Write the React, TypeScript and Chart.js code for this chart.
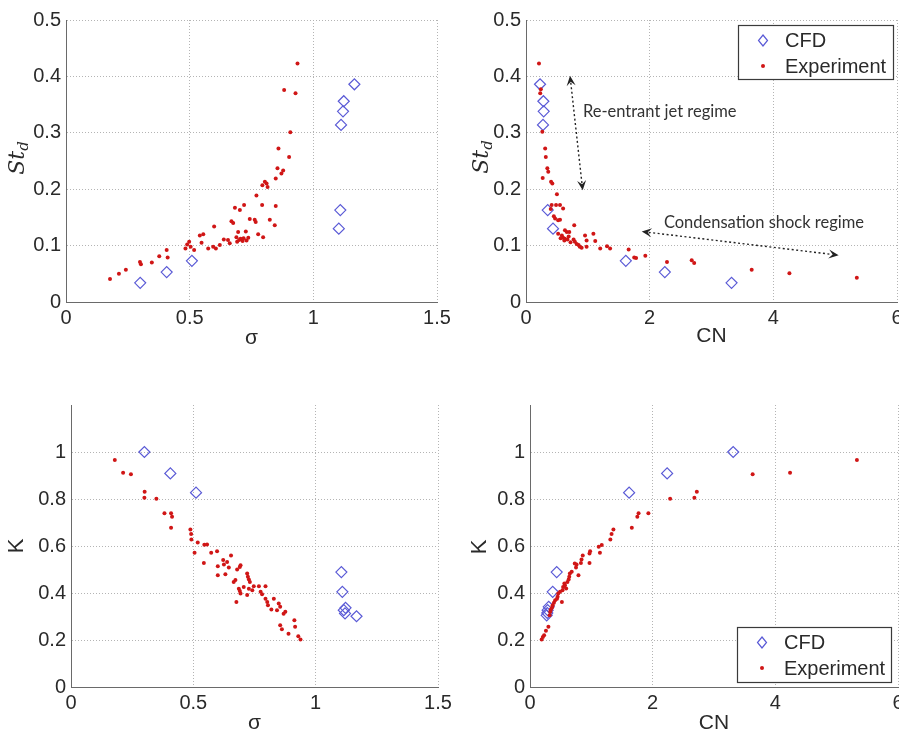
import React, { useEffect, useRef } from 'react';
import { Chart, registerables } from 'chart.js';

Chart.register(...registerables);

type Pt = [number, number];

// ---------- data: panel (a) St_d vs sigma ----------
const cfdSigmaSt: Pt[] = [
  [0.300, 0.034], [0.407, 0.053], [0.509, 0.073], [1.103, 0.130], [1.109, 0.163],
  [1.112, 0.314], [1.120, 0.338], [1.123, 0.356], [1.166, 0.386],
];
const expSigmaSt: Pt[] = [
  [0.178, 0.041], [0.214, 0.050], [0.242, 0.057], [0.299, 0.071], [0.303, 0.067], [0.347, 0.070],
  [0.377, 0.081], [0.407, 0.092], [0.411, 0.079], [0.483, 0.095], [0.490, 0.102], [0.498, 0.107],
  [0.504, 0.098], [0.518, 0.092], [0.541, 0.118], [0.555, 0.120], [0.548, 0.105], [0.575, 0.095],
  [0.599, 0.134], [0.595, 0.098], [0.606, 0.095], [0.622, 0.101], [0.638, 0.111], [0.662, 0.104],
  [0.669, 0.143], [0.676, 0.140], [0.683, 0.167], [0.689, 0.115], [0.692, 0.107], [0.696, 0.124],
  [0.703, 0.163], [0.706, 0.112], [0.714, 0.108], [0.720, 0.172], [0.727, 0.125], [0.730, 0.109],
  [0.737, 0.114], [0.743, 0.147], [0.763, 0.146], [0.767, 0.142], [0.770, 0.189], [0.777, 0.120],
  [0.793, 0.172], [0.797, 0.115], [0.794, 0.207], [0.804, 0.213], [0.811, 0.210], [0.815, 0.204],
  [0.824, 0.146], [0.844, 0.136], [0.848, 0.170], [0.848, 0.219], [0.855, 0.237], [0.859, 0.272],
  [0.871, 0.228], [0.878, 0.233], [0.882, 0.376], [0.902, 0.257], [0.907, 0.301], [0.928, 0.370],
  [0.936, 0.423], [0.655, 0.110], [0.700, 0.110], [0.718, 0.113],
];

// ---------- data: panel (b) St_d vs CN ----------
const cfdCnSt: Pt[] = [
  [0.227, 0.386], [0.281, 0.356], [0.286, 0.338], [0.275, 0.314], [0.351, 0.163],
  [0.437, 0.130], [1.614, 0.073], [2.245, 0.053], [3.324, 0.034],
];
const expCnSt: Pt[] = [
  [0.21, 0.423], [0.24, 0.377], [0.23, 0.370], [0.264, 0.302], [0.31, 0.272], [0.32, 0.257],
  [0.345, 0.237], [0.36, 0.231], [0.27, 0.220], [0.405, 0.213], [0.426, 0.210], [0.50, 0.191],
  [0.415, 0.172], [0.486, 0.172], [0.55, 0.172], [0.60, 0.166], [0.47, 0.148], [0.52, 0.145],
  [0.55, 0.146], [0.78, 0.136], [0.63, 0.127], [0.66, 0.124], [0.52, 0.121], [0.58, 0.118],
  [0.60, 0.114], [0.63, 0.112], [0.67, 0.111], [0.70, 0.124], [0.77, 0.111], [0.79, 0.107],
  [0.85, 0.101], [0.87, 0.098], [0.955, 0.118], [0.98, 0.109], [0.98, 0.098], [1.09, 0.121],
  [1.12, 0.108], [1.20, 0.095], [1.31, 0.099], [1.36, 0.095], [1.66, 0.093], [1.75, 0.079],
  [1.78, 0.078], [1.93, 0.082], [2.28, 0.071], [2.68, 0.074], [2.72, 0.069], [3.65, 0.057],
  [4.26, 0.051], [5.35, 0.043], [0.56, 0.113], [0.62, 0.109], [0.72, 0.106], [0.82, 0.103],
  [0.90, 0.096], [0.69, 0.116], [0.45, 0.152], [0.40, 0.165],
];

// ---------- data: panel (c) K vs sigma ----------
const cfdSigmaK: Pt[] = [
  [0.300, 1.0], [0.406, 0.909], [0.511, 0.827], [1.105, 0.489], [1.109, 0.405],
  [1.122, 0.337], [1.115, 0.327], [1.120, 0.313], [1.167, 0.301],
];
const expSigmaK: Pt[] = [
  [0.179, 0.966], [0.213, 0.912], [0.245, 0.905], [0.301, 0.831], [0.300, 0.805], [0.349, 0.801],
  [0.382, 0.739], [0.409, 0.739], [0.413, 0.724], [0.409, 0.678], [0.488, 0.670], [0.491, 0.651],
  [0.492, 0.628], [0.505, 0.571], [0.518, 0.615], [0.545, 0.605], [0.556, 0.606], [0.543, 0.528],
  [0.573, 0.571], [0.597, 0.578], [0.600, 0.514], [0.600, 0.476], [0.622, 0.540], [0.625, 0.521],
  [0.638, 0.532], [0.631, 0.480], [0.654, 0.560], [0.645, 0.509], [0.665, 0.447], [0.672, 0.455],
  [0.676, 0.362], [0.679, 0.500], [0.690, 0.511], [0.693, 0.518], [0.686, 0.418], [0.690, 0.409],
  [0.693, 0.398], [0.706, 0.426], [0.720, 0.483], [0.723, 0.469], [0.727, 0.457], [0.731, 0.447],
  [0.727, 0.418], [0.720, 0.391], [0.741, 0.412], [0.747, 0.429], [0.768, 0.429], [0.775, 0.405],
  [0.781, 0.395], [0.795, 0.429], [0.795, 0.376], [0.802, 0.362], [0.805, 0.348], [0.819, 0.330],
  [0.829, 0.376], [0.849, 0.355], [0.855, 0.341], [0.842, 0.327], [0.876, 0.320], [0.869, 0.312],
  [0.855, 0.263], [0.862, 0.246], [0.889, 0.227], [0.913, 0.284], [0.916, 0.256], [0.929, 0.216],
  [0.938, 0.202],
];

// ---------- data: panel (d) K vs CN ----------
const cfdCnK: Pt[] = [
  [0.272, 0.305], [0.288, 0.327], [0.305, 0.341], [0.282, 0.315], [0.370, 0.405],
  [0.435, 0.489], [1.616, 0.827], [2.236, 0.909], [3.313, 1.0],
];
const expCnK: Pt[] = [
  [5.33, 0.966], [4.24, 0.912], [3.63, 0.905], [2.72, 0.831], [2.68, 0.805], [2.285, 0.801],
  [1.93, 0.739], [1.77, 0.739], [1.75, 0.724], [1.66, 0.678], [1.36, 0.670], [1.33, 0.651],
  [1.31, 0.628], [1.17, 0.604], [1.12, 0.597], [1.14, 0.571], [0.98, 0.578], [0.97, 0.568],
  [0.97, 0.528], [0.86, 0.560], [0.84, 0.543], [0.83, 0.528], [0.76, 0.521], [0.73, 0.526],
  [0.75, 0.509], [0.79, 0.476], [0.65, 0.483], [0.64, 0.469], [0.63, 0.457], [0.61, 0.447],
  [0.57, 0.433], [0.54, 0.426], [0.53, 0.412], [0.59, 0.419], [0.49, 0.405], [0.46, 0.398],
  [0.45, 0.384], [0.52, 0.362], [0.41, 0.369], [0.39, 0.358], [0.37, 0.348], [0.34, 0.330],
  [0.33, 0.320], [0.32, 0.305], [0.30, 0.256], [0.26, 0.239], [0.23, 0.220], [0.21, 0.213],
  [0.19, 0.202], [0.68, 0.490], [0.56, 0.440], [0.44, 0.376], [0.36, 0.338],
];

// ---------- labels ----------
const seriesNames = ['CFD', 'Experiment'];
const sigmaTitle = 'σ';
const cnTitle = 'CN';
const kTitle = 'K';
const stTitleMain = 'St';
const stTitleSub = 'd';
const annoJet = 'Re-entrant jet regime';
const annoShock = 'Condensation shock regime';
// annotation anchors in data units (CN, St_d)
const jetArrow: Pt[] = [[0.712, 0.401], [0.917, 0.198]];
const jetTextPos: Pt = [0.92, 0.337];
const shockArrow: Pt[] = [[1.872, 0.125], [5.056, 0.083]];
const shockTextPos: Pt = [2.23, 0.140];

// ---------- styles ----------
const SANS = '"Liberation Sans", Arial, sans-serif';
const TEXT = '#2a2a2a';
const AXIS = '#6a6a6a';
const GRID = '#b4b4b4';
const BLUE = '#5a5ad6';
const RED = '#d01616';

function drawArrowHead(ctx: CanvasRenderingContext2D, tx: number, ty: number, ux: number, uy: number) {
  const L = 10, W = 4.5;
  const nx = -uy, ny = ux;
  ctx.beginPath();
  ctx.moveTo(tx, ty);
  ctx.lineTo(tx - ux * L + nx * W, ty - uy * L + ny * W);
  ctx.lineTo(tx - ux * L * 0.6, ty - uy * L * 0.6);
  ctx.lineTo(tx - ux * L - nx * W, ty - uy * L - ny * W);
  ctx.closePath();
  ctx.fill();
}

function drawDoubleArrow(ctx: CanvasRenderingContext2D, x1: number, y1: number, x2: number, y2: number) {
  const dx = x2 - x1, dy = y2 - y1;
  const len = Math.hypot(dx, dy);
  const ux = dx / len, uy = dy / len;
  ctx.save();
  ctx.strokeStyle = '#222';
  ctx.fillStyle = '#222';
  ctx.lineWidth = 1.4;
  ctx.setLineDash([2, 2.5]);
  ctx.beginPath();
  ctx.moveTo(x1 + ux * 7, y1 + uy * 7);
  ctx.lineTo(x2 - ux * 7, y2 - uy * 7);
  ctx.stroke();
  ctx.setLineDash([]);
  drawArrowHead(ctx, x2, y2, ux, uy);
  drawArrowHead(ctx, x1, y1, -ux, -uy);
  ctx.restore();
}

const decorPlugin = {
  id: 'panelDecor',
  afterDraw(chart: any, _args: any, opts: any) {
    const ctx: CanvasRenderingContext2D = chart.ctx;
    const a = chart.chartArea;
    const xs = chart.scales.x;
    const ys = chart.scales.y;
    ctx.save();
    ctx.fillStyle = TEXT;
    // x title
    ctx.font = `21px ${SANS}`;
    ctx.textAlign = 'center';
    ctx.textBaseline = 'middle';
    ctx.fillText(opts.xTitle, (a.left + a.right) / 2, a.bottom + opts.xTitleOffset);
    // y title
    ctx.save();
    ctx.translate(a.left - opts.yTitleOffset, (a.top + a.bottom) / 2 + opts.yTitleShift);
    ctx.rotate(-Math.PI / 2);
    if (opts.yTitleSub) {
      const mainFont = `italic 22px "DejaVu Serif", "Liberation Serif", serif`;
      const subFont = `italic 15px "DejaVu Serif", "Liberation Serif", serif`;
      ctx.font = mainFont;
      const w1 = ctx.measureText(opts.yTitle).width;
      ctx.font = subFont;
      const w2 = ctx.measureText(opts.yTitleSub).width;
      const start = -(w1 + w2) / 2;
      ctx.textAlign = 'left';
      ctx.textBaseline = 'alphabetic';
      ctx.font = mainFont;
      ctx.fillText(opts.yTitle, start, 7);
      ctx.font = subFont;
      ctx.fillText(opts.yTitleSub, start + w1, 11);
    } else {
      ctx.font = `22px ${SANS}`;
      ctx.textAlign = 'center';
      ctx.textBaseline = 'middle';
      ctx.fillText(opts.yTitle, 0, 0);
    }
    ctx.restore();

    // annotations
    if (opts.annotations) {
      for (const an of opts.annotations) {
        const [p1, p2] = an.arrow;
        drawDoubleArrow(
          ctx,
          xs.getPixelForValue(p1[0]), ys.getPixelForValue(p1[1]),
          xs.getPixelForValue(p2[0]), ys.getPixelForValue(p2[1]),
        );
        ctx.fillStyle = '#333';
        ctx.font = `16.5px Lato, "Open Sans", sans-serif`;
        ctx.textAlign = 'left';
        ctx.textBaseline = 'middle';
        ctx.fillText(an.text, xs.getPixelForValue(an.pos[0]), ys.getPixelForValue(an.pos[1]));
      }
    }

    // legend box
    if (opts.legend) {
      const lx = a.left + opts.legend.dx;
      const ly = a.top + opts.legend.dy;
      const lw = opts.legend.w, lh = opts.legend.h;
      ctx.fillStyle = '#ffffff';
      ctx.fillRect(lx, ly, lw, lh);
      ctx.strokeStyle = '#3a3a3a';
      ctx.lineWidth = 1.2;
      ctx.strokeRect(lx + 0.5, ly + 0.5, lw - 1, lh - 1);
      const mx = lx + 25;
      const r1 = ly + 15.5, r2 = ly + 41;
      // diamond
      ctx.strokeStyle = BLUE;
      ctx.lineWidth = 1.2;
      ctx.beginPath();
      ctx.moveTo(mx, r1 - 5.5);
      ctx.lineTo(mx + 4.5, r1);
      ctx.lineTo(mx, r1 + 5.5);
      ctx.lineTo(mx - 4.5, r1);
      ctx.closePath();
      ctx.stroke();
      // dot
      ctx.fillStyle = RED;
      ctx.beginPath();
      ctx.arc(mx, r2, 2, 0, Math.PI * 2);
      ctx.fill();
      ctx.fillStyle = TEXT;
      ctx.font = `20px ${SANS}`;
      ctx.textAlign = 'left';
      ctx.textBaseline = 'middle';
      ctx.fillText(seriesNames[0], lx + 47, r1 + 1);
      ctx.fillText(seriesNames[1], lx + 47, r2 + 1);
    }
    ctx.restore();
  },
};

interface PanelSpec {
  left: number; top: number; width: number; height: number;
  cfd: Pt[]; exp: Pt[];
  xMax: number; xStep: number; yMax: number; yStep: number; yTickMax: number;
  padding: { left: number; right: number; top: number; bottom: number };
  yAxisWidth: number;
  decor: any;
}

const fmtTick = (v: any) => String(Number(Number(v).toFixed(3)));

function Panel({ spec }: { spec: PanelSpec }) {
  const ref = useRef<HTMLCanvasElement>(null);
  useEffect(() => {
    if (!ref.current) return;
    const tickFont = { family: SANS, size: 20 };
    const chart = new Chart(ref.current, {
      type: 'scatter',
      data: {
        datasets: [
          {
            label: seriesNames[0],
            data: spec.cfd.map(([x, y]) => ({ x, y })),
            pointStyle: 'rectRot',
            pointRadius: 5.5,
            pointBorderColor: BLUE,
            pointBackgroundColor: 'rgba(0,0,0,0)',
            pointBorderWidth: 1.2,
            order: 2,
          },
          {
            label: seriesNames[1],
            data: spec.exp.map(([x, y]) => ({ x, y })),
            pointStyle: 'circle',
            pointRadius: 2,
            pointBorderWidth: 0,
            pointBackgroundColor: RED,
            pointBorderColor: RED,
            order: 1,
          },
        ],
      },
      options: {
        animation: false,
        responsive: false,
        maintainAspectRatio: false,
        events: [],
        layout: { padding: spec.padding, autoPadding: false },
        plugins: {
          legend: { display: false },
          tooltip: { enabled: false },
          panelDecor: spec.decor,
        } as any,
        scales: {
          x: {
            type: 'linear',
            min: 0,
            max: spec.xMax,
            ticks: { stepSize: spec.xStep, color: TEXT, font: tickFont, padding: 4, maxRotation: 0, callback: fmtTick },
            grid: { color: GRID, lineWidth: 1, drawTicks: false },
            border: { display: true, color: AXIS, width: 1, dash: [1, 2] },
            afterFit: (s: any) => { s.height = 40; s.paddingLeft = 0; s.paddingRight = 0; },
          },
          y: {
            type: 'linear',
            min: 0,
            max: spec.yMax,
            ticks: { stepSize: spec.yStep, color: TEXT, font: tickFont, padding: 5, callback: fmtTick },
            grid: { color: GRID, lineWidth: 1, drawTicks: false },
            border: { display: true, color: AXIS, width: 1, dash: [1, 2] },
            afterBuildTicks: (s: any) => { s.ticks = s.ticks.filter((t: any) => t.value <= spec.yTickMax + 1e-6); },
            afterFit: (s: any) => { s.width = spec.yAxisWidth; s.paddingTop = 0; s.paddingBottom = 0; },
          },
        },
      } as any,
      plugins: [decorPlugin as any],
    });
    return () => chart.destroy();
  }, [spec]);
  return (
    <canvas
      ref={ref}
      width={spec.width}
      height={spec.height}
      style={{ position: 'absolute', left: spec.left, top: spec.top, width: spec.width, height: spec.height }}
    />
  );
}

const panels: PanelSpec[] = [
  {
    left: 0, top: 0, width: 460, height: 368,
    cfd: cfdSigmaSt, exp: expSigmaSt,
    xMax: 1.5, xStep: 0.5, yMax: 0.5, yStep: 0.1, yTickMax: 0.5,
    padding: { left: 0, right: 23, top: 20, bottom: 26 },
    yAxisWidth: 66,
    decor: { xTitle: sigmaTitle, xTitleOffset: 36, yTitle: stTitleMain, yTitleSub: stTitleSub, yTitleOffset: 49, yTitleShift: -3 },
  },
  {
    left: 450, top: 0, width: 449, height: 368,
    cfd: cfdCnSt, exp: expCnSt,
    xMax: 6, xStep: 2, yMax: 0.5, yStep: 0.1, yTickMax: 0.5,
    padding: { left: 0, right: 2, top: 20, bottom: 26 },
    yAxisWidth: 76,
    decor: {
      xTitle: cnTitle, xTitleOffset: 34, yTitle: stTitleMain, yTitleSub: stTitleSub, yTitleOffset: 45, yTitleShift: -4,
      legend: { dx: 212, dy: 5, w: 156, h: 55 },
      annotations: [
        { arrow: jetArrow, text: annoJet, pos: jetTextPos },
        { arrow: shockArrow, text: annoShock, pos: shockTextPos },
      ],
    },
  },
  {
    left: 0, top: 368, width: 460, height: 368,
    cfd: cfdSigmaK, exp: expSigmaK,
    xMax: 1.5, xStep: 0.5, yMax: 1.2, yStep: 0.2, yTickMax: 1.0,
    padding: { left: 0, right: 22, top: 37, bottom: 9 },
    yAxisWidth: 71,
    decor: { xTitle: sigmaTitle, xTitleOffset: 36, yTitle: kTitle, yTitleOffset: 54, yTitleShift: 0 },
  },
  {
    left: 450, top: 368, width: 449, height: 368,
    cfd: cfdCnK, exp: expCnK,
    xMax: 6, xStep: 2, yMax: 1.2, yStep: 0.2, yTickMax: 1.0,
    padding: { left: 0, right: 1, top: 37, bottom: 9 },
    yAxisWidth: 80,
    decor: {
      xTitle: cnTitle, xTitleOffset: 36, yTitle: kTitle, yTitleOffset: 50, yTitleShift: 1,
      legend: { dx: 207, dy: 222, w: 155, h: 56 },
    },
  },
];

export default function App() {
  return (
    <div style={{ position: 'absolute', left: 0, top: 0, width: 899, height: 736, background: '#ffffff', overflow: 'hidden' }}>
      {panels.map((p, i) => (
        <Panel key={i} spec={p} />
      ))}
    </div>
  );
}
